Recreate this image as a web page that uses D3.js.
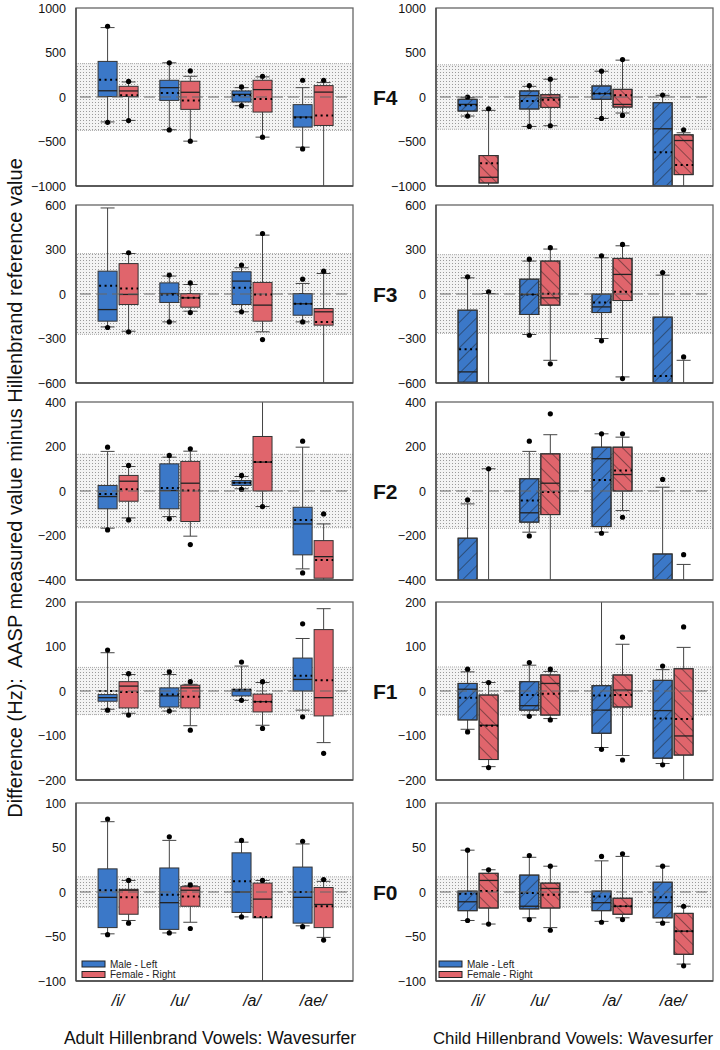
<!DOCTYPE html>
<html><head><meta charset="utf-8">
<script src="https://cdn.jsdelivr.net/npm/d3@7"></script>
<style>body{margin:0;background:#fff;} svg{display:block;font-family:Arial,"Liberation Sans",sans-serif;}</style>
</head><body><svg id="chart" width="720" height="1050"></svg>
<script>
// ---------------- DATA ----------------
const vowels = ["/i/", "/u/", "/a/", "/ae/"];
const vowelPos = [1, 2, 3.17, 4.16];
const formants = ["F4", "F3", "F2", "F1", "F0"];
const yDomains = [[-1000, 1000], [-600, 600], [-400, 400], [-200, 200], [-100, 100]];
const yTicks = [[-1000, -500, 0, 500, 1000], [-600, -300, 0, 300, 600], [-400, -200, 0, 200, 400], [-200, -100, 0, 100, 200], [-100, -50, 0, 50, 100]];
const adultBand = [375, 272, 165, 53, 17];
const childBand = [362, 265, 168, 54, 17];
const legendLabels = ["Male - Left", "Female - Right"];
const columnTitles = ["Adult Hillenbrand Vowels: Wavesurfer", "Child Hillenbrand Vowels: Wavesurfer"];
const yTitle = "Difference (Hz):  AASP measured value minus Hillenbrand reference value";

// each row (one per vowel): [lowPoint, lowWhisker, Q1, median, Q3, highWhisker, highPoint, mean]
const adultF4Male   = [[-285,-280,5,70,400,780,795,195],[-370,-368,-38,105,188,384,384,45],[-98,-98,-56,30,68,105,113,19],[-583,-564,-338,-225,-86,105,188,-230]];
const adultF4Female = [[-265,-263,5,68,120,169,175,19],[-496,-496,-139,53,177,233,293,-38],[-451,-451,-169,83,188,226,233,-23],[null,-1100,-320,55,128,162,188,-207]];
const childF4Male   = [[-214,-214,-158,-83,-26,-8,0,-94],[-331,-331,-135,15,68,120,128,-45],[-241,-241,-26,38,124,290,290,38],[null,-1100,-1050,-357,-64,19,22,-620]];
const childF4Female = [[null,-1100,-966,-902,-658,-150,-132,-745],[-323,-323,-117,-8,26,200,200,-30],[-207,-180,-113,-83,86,414,421,19],[null,-1100,-872,-489,-425,-402,-368,-763]];

const adultF3Male   = [[-226,-222,-183,-105,154,580,null,55],[-188,-188,-57,3,75,121,128,-3],[-120,-120,-71,87,150,177,195,42],[-188,-188,-143,-66,3,71,100,-66]];
const adultF3Female = [[-255,-251,-71,-3,205,273,278,37],[-125,-116,-89,-26,3,64,75,-26],[-307,-255,-183,-75,78,397,408,-3],[null,-650,-210,-120,-98,138,154,-188]];
const childF3Male   = [[null,-650,-595,-525,-109,109,116,-373],[-278,-273,-138,-3,100,222,235,-3],[-316,-300,-125,-87,-1,244,258,-57],[null,-700,-650,-620,-156,127,145,-552]];
const childF3Female = [[null,-750,-700,-680,-650,3,15,-660],[-471,-447,-75,-26,222,303,312,1],[-570,-559,-44,132,240,325,334,15],[null,-750,-700,-680,-650,-447,-424,-670]];

const adultF2Male   = [[-175,-167,-80,-25,25,178,197,-13],[-125,-115,-80,2,122,152,160,13],[7,10,25,37,47,65,70,37],[-368,-350,-287,-148,-73,197,224,-130]];
const adultF2Female = [[-130,-121,-46,44,70,110,115,8],[-241,-203,-137,35,133,179,190,2],[-70,-70,0,130,245,450,null,130],[null,-420,-392,-295,-223,-148,-103,-310]];
const childF2Male   = [[null,-450,-440,-420,-212,-58,-40,-410],[-202,-185,-140,-98,55,178,224,-43],[-190,-185,-160,145,197,257,257,50],[null,-450,-440,-420,-283,17,52,-410]];
const childF2Female = [[null,-500,-480,-460,-440,100,100,-460],[null,-420,-106,35,167,253,347,-5],[-118,-88,0,74,197,242,257,92],[null,-500,-480,-460,-440,-330,-286,-460]];

const adultF1Male   = [[-43,-41,-23,-15,-8,86,92,0],[-45,-45,-36,-11,7,37,43,-8],[-21,-21,-11,0,4,56,65,3],[-58,-43,0,26,74,118,151,34]];
const adultF1Female = [[-54,-50,-38,11,21,37,39,-2],[-88,-78,-38,7,13,15,21,-13],[-84,-77,-47,-24,-7,19,21,-24],[-140,-116,-56,-15,138,185,null,24]];
const childF1Male   = [[-92,-86,-65,4,17,43,49,-15],[-57,-54,-43,-33,21,58,64,-9],[-131,-127,-95,-43,12,220,null,-10],[-166,-163,-151,-44,24,48,56,-62]];
const childF1Female = [[-172,-170,-154,-77,-9,19,19,-78],[-65,-62,-54,17,36,44,49,-6],[-155,-145,-36,2,36,105,121,-9],[null,-210,-144,-101,50,98,144,-63]];

const adultF0Male   = [[-48,-47,-40,-6,26,79,82,2],[-46,-46,-42,-12,27,58,62,-3],[-28,-28,-23,0,44,56,58,12],[-39,-38,-35,-6,28,54,57,0]];
const adultF0Female = [[-35,-32,-25,2,3,13,13,-6],[-41,-34,-16,2,6,7,8,-5],[null,-110,-29,-8,10,13,13,-28],[-54,-51,-40,-14,5,12,14,-16]];
const childF0Male   = [[-32,-32,-21,-11,1,47,47,-2],[-31,-29,-19,-16,19,39,41,-1],[-34,-33,-21,-12,1,35,40,-5],[-35,-34,-29,-12,11,29,29,-6]];
const childF0Female = [[-36,-36,-18,13,21,25,25,1],[-43,-40,-18,4,10,29,29,-3],[-31,-29,-25,-16,-7,40,43,-16],[-83,-81,-70,-44,-24,-16,-16,-44]];

const panelData = {
  adult: [[adultF4Male, adultF4Female], [adultF3Male, adultF3Female], [adultF2Male, adultF2Female], [adultF1Male, adultF1Female], [adultF0Male, adultF0Female]],
  child: [[childF4Male, childF4Female], [childF3Male, childF3Female], [childF2Male, childF2Female], [childF1Male, childF1Female], [childF0Male, childF0Female]]
};

// ---------------- LAYOUT ----------------
const colX = [76, 436];
const rowTop = [8, 205, 402, 602, 803];
const plotW = 277, plotH = 178;
const colors = ["#3b78c8", "#e0656c"];
const boxW = 19, boxGap = 1;

const svg = d3.select("#chart");
const defs = svg.append("defs");

// band dot pattern
const bp = defs.append("pattern").attr("id", "bandDots").attr("patternUnits", "userSpaceOnUse").attr("width", 3).attr("height", 3);
bp.append("rect").attr("width", 3).attr("height", 3).attr("fill", "#f3f3f3");
bp.append("rect").attr("x", 1).attr("y", 1).attr("width", 1).attr("height", 1).attr("fill", "#9a9a9a");
// hatch patterns
[["hatchF", 1], ["hatchB", -1]].forEach(([id, dir]) => {
  const p = defs.append("pattern").attr("id", id).attr("patternUnits", "userSpaceOnUse").attr("width", 9).attr("height", 9)
    .attr("patternTransform", `rotate(${dir > 0 ? 45 : -45})`);
  p.append("line").attr("x1", 0).attr("y1", 0).attr("x2", 0).attr("y2", 9).attr("stroke", "#1a1a1a").attr("stroke-width", 0.9);
});

const x = d3.scaleLinear().domain([0.318, 4.806]).range([0, plotW]);

["adult", "child"].forEach((grp, ci) => {
  formants.forEach((fm, ri) => {
    const g = svg.append("g").attr("transform", `translate(${colX[ci]},${rowTop[ri]})`);
    const y = d3.scaleLinear().domain(yDomains[ri]).range([plotH, 0]);
    const clipId = `clip-${grp}-${fm}`;
    defs.append("clipPath").attr("id", clipId).append("rect").attr("width", plotW).attr("height", plotH);
    const inner = g.append("g").attr("clip-path", `url(#${clipId})`);
    const band = (ci === 0 ? adultBand : childBand)[ri];

    // reference band
    inner.append("rect").attr("x", 0).attr("width", plotW)
      .attr("y", y(band)).attr("height", y(-band) - y(band)).attr("fill", "url(#bandDots)");
    [band, -band].forEach(v => inner.append("line").attr("x1", 0).attr("x2", plotW).attr("y1", y(v)).attr("y2", y(v))
      .attr("stroke", "#aaa").attr("stroke-width", 1).attr("stroke-dasharray", "1,1"));

    // boxes
    panelData[grp][ri].forEach((series, si) => {
      series.forEach((d, vi) => {
        const [pLo, wLo, q1, med, q3, wHi, pHi, mean] = d;
        const cx = x(vowelPos[vi]);
        const bx = si === 0 ? cx - boxGap - boxW : cx + boxGap;
        const bc = bx + boxW / 2;
        const cw = 7;
        const wg = inner.append("g");
        wg.append("line").attr("x1", bc).attr("x2", bc).attr("y1", y(wLo)).attr("y2", y(q1)).attr("stroke", "#444").attr("stroke-width", 1);
        wg.append("line").attr("x1", bc).attr("x2", bc).attr("y1", y(q3)).attr("y2", y(wHi)).attr("stroke", "#444").attr("stroke-width", 1);
        [wLo, wHi].forEach(v => wg.append("line").attr("x1", bc - cw).attr("x2", bc + cw).attr("y1", y(v)).attr("y2", y(v)).attr("stroke", "#444").attr("stroke-width", 1));
        wg.append("rect").attr("x", bx).attr("width", boxW).attr("y", y(q3)).attr("height", y(q1) - y(q3))
          .attr("fill", colors[si]).attr("stroke", "#333").attr("stroke-width", 1);
        if (ci === 1) {
          wg.append("rect").attr("x", bx).attr("width", boxW).attr("y", y(q3)).attr("height", y(q1) - y(q3))
            .attr("fill", si === 0 ? "url(#hatchF)" : "url(#hatchB)").attr("stroke", "#333").attr("stroke-width", 1);
        }
        wg.append("line").attr("x1", bx).attr("x2", bx + boxW).attr("y1", y(med)).attr("y2", y(med)).attr("stroke", "#222").attr("stroke-width", 1.3);
        wg.append("line").attr("x1", bx + 1).attr("x2", bx + boxW).attr("y1", y(mean)).attr("y2", y(mean)).attr("stroke", "#000")
          .attr("stroke-width", 2).attr("stroke-dasharray", "2,3.5");
        [pLo, pHi].forEach(v => { if (v !== null) wg.append("circle").attr("cx", bc).attr("cy", y(v)).attr("r", 2.6).attr("fill", "#000"); });
      });
    });

    // zero reference line
    inner.append("line").attr("x1", 4).attr("x2", plotW - 4).attr("y1", y(0)).attr("y2", y(0))
      .attr("stroke", "#666").attr("stroke-width", 1).attr("stroke-dasharray", "11,5");

    // frame
    g.append("rect").attr("width", plotW).attr("height", plotH).attr("fill", "none").attr("stroke", "#666").attr("stroke-width", 1.3);
    g.append("line").attr("x1", 0).attr("x2", 0).attr("y1", 0).attr("y2", plotH).attr("stroke", "#444").attr("stroke-width", 1.3);
    g.append("line").attr("x1", 0).attr("x2", plotW).attr("y1", plotH).attr("y2", plotH).attr("stroke", "#444").attr("stroke-width", 1.3);

    // y axis tick labels
    const ax = g.append("g").call(d3.axisLeft(y).tickValues(yTicks[ri]).tickSize(0).tickPadding(10).tickFormat(d3.format("d")));
    ax.select(".domain").remove();
    ax.selectAll("text").attr("font-size", 12.5).attr("fill", "#111").attr("font-family", "Arial, 'Liberation Sans', sans-serif");

    if (ci === 1) {
      g.append("text").attr("x", -63).attr("y", y(0)).attr("dy", "0.36em").attr("font-size", 21).attr("font-weight", "bold").attr("fill", "#111").text(fm);
    }

    if (ri === 4) {
      const lx = ci === 0 ? 6 : 3;
      legendLabels.forEach((lab, li) => {
        g.append("rect").attr("x", lx).attr("y", 158 + li * 10.5).attr("width", 23).attr("height", 6)
          .attr("fill", colors[li]).attr("stroke", "#222").attr("stroke-width", 1);
        g.append("text").attr("x", lx + 28).attr("y", 164.5 + li * 10.5).attr("font-size", 10).attr("fill", "#222").text(lab);
      });
      vowels.forEach((v, vi) => {
        g.append("text").attr("x", x(vowelPos[vi])).attr("y", plotH + 25).attr("text-anchor", "middle")
          .attr("font-size", 16).attr("font-style", "italic").attr("fill", "#111").text(v);
      });
      g.append("text").attr("x", ci === 0 ? 134 : 137).attr("y", plotH + 63).attr("text-anchor", "middle")
        .attr("font-size", ci === 0 ? 17.5 : 16.8).attr("fill", "#111").text(columnTitles[ci]);
    }
  });
});

// y axis title
svg.append("text").attr("transform", "translate(22,488) rotate(-90)").attr("text-anchor", "middle")
  .attr("font-size", 20).attr("fill", "#111").attr("xml:space", "preserve").style("white-space", "pre").text(yTitle);
</script></body></html>
